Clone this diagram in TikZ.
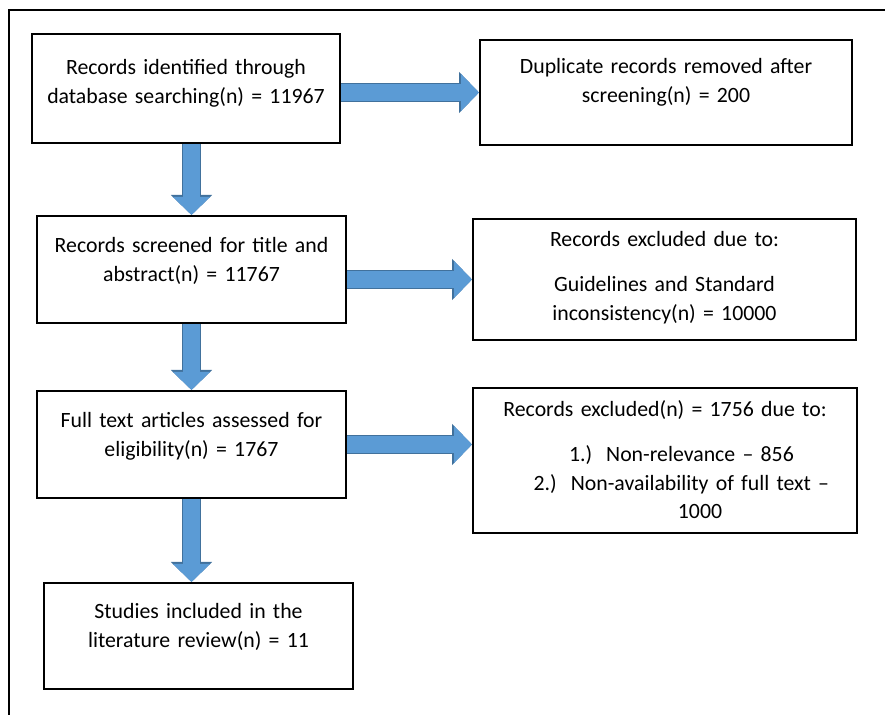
\documentclass[tikz,border=0pt]{standalone}
\usepackage{fontspec}
\setmainfont{Carlito}
\usetikzlibrary{arrows.meta,positioning,backgrounds}
\definecolor{arrowfill}{HTML}{5B9BD5}
\definecolor{arrowedge}{HTML}{41719C}

\begin{document}
\begin{tikzpicture}[x=0.5pt,y=-0.5pt,on grid,
  font=\fontsize{10.9}{14.3}\selectfont,
  box/.style n args={3}{draw,line width=1pt,fill=white,align=center,inner sep=0pt,
    minimum width=#1,text width=#1-8pt,minimum height=#2,text height=0pt,text depth=#3}]
  \useasboundingbox (0,0) rectangle (885,715);
  \coordinate (fbl) at (9,715);
  \coordinate (ftl) at (9,10);
  \coordinate (ftr) at (885,10);
  \draw[line width=1pt] (fbl) -- (ftl) -- (ftr);

  \node[box={154pt}{54.5pt}{13.5pt}]   (idf)                               at (186,88.5) {Records identified through\\database searching(n) = 11967};
  \node[box={186pt}{52.5pt}{18.5pt}]   (dup)  [right=240pt of idf,yshift=-2pt]          {Duplicate records removed after\\screening(n) = 200};
  \node[box={154.5pt}{53.5pt}{16.5pt}] (scr)  [below=90.5pt of idf,xshift=2.75pt]       {Records screened for title and\\abstract(n) = 11767};
  \node[box={191.5pt}{60.5pt}{32.5pt}] (exc1) [right=236.5pt of scr,yshift=-5pt]        {Records excluded due to:\\[8pt]Guidelines and Standard\\inconsistency(n) = 10000};
  \node[box={154.5pt}{53.5pt}{16.5pt}] (full) [below=87.5pt of scr]                     {Full text articles assessed for\\eligibility(n) = 1767};
  \node[box={192pt}{72.5pt}{43.5pt}]   (exc2) [right=236.75pt of full,yshift=-8pt]      {Records excluded(n) = 1756 due to:\\[8pt]%
    \hspace*{35pt}\llap{1.)\hspace{7pt}}Non-relevance -- 856\\
    \hspace*{35pt}\llap{2.)\hspace{7pt}}Non-availability of full text --\\
    \hspace*{35pt}1000};
  \node[box={154.5pt}{53pt}{17pt}]     (inc)  [below=95.75pt of full,xshift=3.5pt]      {Studies included in the\\literature review(n) = 11};

\tikzset{fatarrow/.style={draw=arrowfill,line width=8.5pt,-{Triangle[length=9pt,width=18pt]},
  preaction={draw=arrowedge,line width=9.5pt,-{Triangle[length=10pt,width=20pt]}}}}
\begin{scope}[on background layer]
\path (scr.north |- idf.south) edge [fatarrow] (scr.north)
      (scr.south)              edge [fatarrow] (full.north)
      (full.south)             edge [fatarrow] (full.south |- inc.north)
      (idf.east |- dup.west)   edge [fatarrow] (dup.west)
      (scr.east |- exc1.west)  edge [fatarrow] (exc1.west)
      (full.east)              edge [fatarrow] (full.east -| exc2.west);
\end{scope}
\end{tikzpicture}
\end{document}
